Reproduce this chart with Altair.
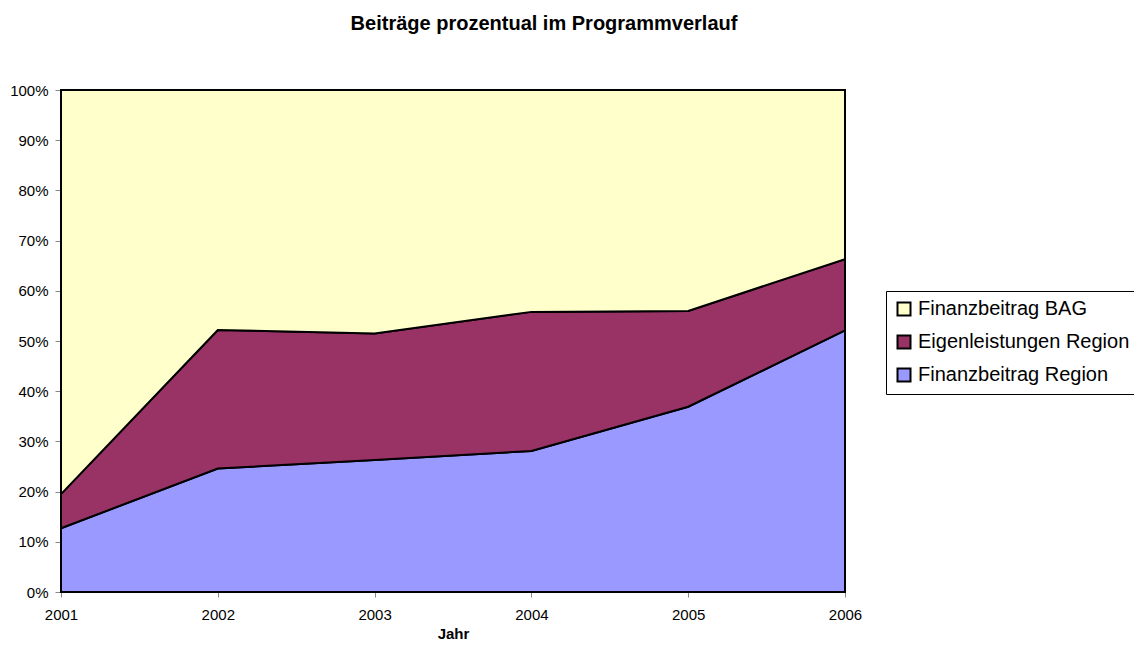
import altair as alt
import pandas as pd

years = [2001, 2002, 2003, 2004, 2005, 2006]
series = ["Finanzbeitrag BAG", "Eigenleistungen Region", "Finanzbeitrag Region"]
colors = ["#FFFFCC", "#993366", "#9999FF"]

# percentages per year
finanz_region = [12.7, 24.6, 26.3, 28.1, 36.9, 52.1]
eigen_region = [6.8, 27.6, 25.2, 27.7, 19.1, 14.2]
finanz_bag = [80.5, 47.8, 48.5, 44.2, 44.0, 33.7]

rows = []
for i, y in enumerate(years):
    rows.append({"Jahr": y, "Serie": "Finanzbeitrag Region", "Wert": finanz_region[i], "ord": 0})
    rows.append({"Jahr": y, "Serie": "Eigenleistungen Region", "Wert": eigen_region[i], "ord": 1})
    rows.append({"Jahr": y, "Serie": "Finanzbeitrag BAG", "Wert": finanz_bag[i], "ord": 2})
df = pd.DataFrame(rows)

FONT = "Liberation Sans"

chart = (
    alt.Chart(df)
    .mark_area(stroke="black", strokeWidth=2, opacity=1)
    .encode(
        x=alt.X(
            "Jahr:Q",
            scale=alt.Scale(domain=[2001, 2006], nice=False, zero=False),
            axis=alt.Axis(
                values=years, format="d", title="Jahr", grid=False,
                tickSize=5, labelPadding=10, labelFlush=False,
                titleY=46, titleBaseline="alphabetic",
                labelFontSize=15, titleFontSize=15, titleFontWeight="bold",
            ),
        ),
        y=alt.Y(
            "Wert:Q",
            stack="normalize",
            scale=alt.Scale(domain=[0, 1], nice=False),
            axis=alt.Axis(
                values=[i / 10 for i in range(11)], format=".0%", title=None,
                grid=False, tickSize=6, labelPadding=7, labelFontSize=15,
            ),
        ),
        color=alt.Color(
            "Serie:N",
            scale=alt.Scale(domain=series, range=colors),
            legend=alt.Legend(
                title=None, orient="none", legendX=825, legendY=201,
                symbolType="square", symbolSize=169, symbolStrokeWidth=2,
                symbolStrokeColor="black", symbolOpacity=1,
                labelFontSize=20, labelFont=FONT, labelOffset=4, labelLimit=0,
                strokeColor="black", padding=8, rowPadding=11,
            ),
        ),
        order=alt.Order("ord:Q"),
    )
    .properties(
        width=784,
        height=502,
        autosize=alt.AutoSizeParams(type="none"),
        padding={"left": 53, "top": 82, "right": 289, "bottom": 48},
        title=alt.TitleParams(
            "Beiträge prozentual im Programmverlauf",
            fontSize=20, fontWeight="bold", font=FONT, anchor="middle",
            frame="group", dx=91, offset=49, color="black",
        ),
    )
    .configure_view(stroke="black", strokeWidth=2)
    .configure_axis(
        domainColor="black", tickColor="black", labelColor="black",
        titleColor="black", labelFont=FONT, titleFont=FONT, domainWidth=1,
    )
    .configure(background="white")
)

chart.save("out.html", embed_options={"renderer": "svg", "actions": False})
